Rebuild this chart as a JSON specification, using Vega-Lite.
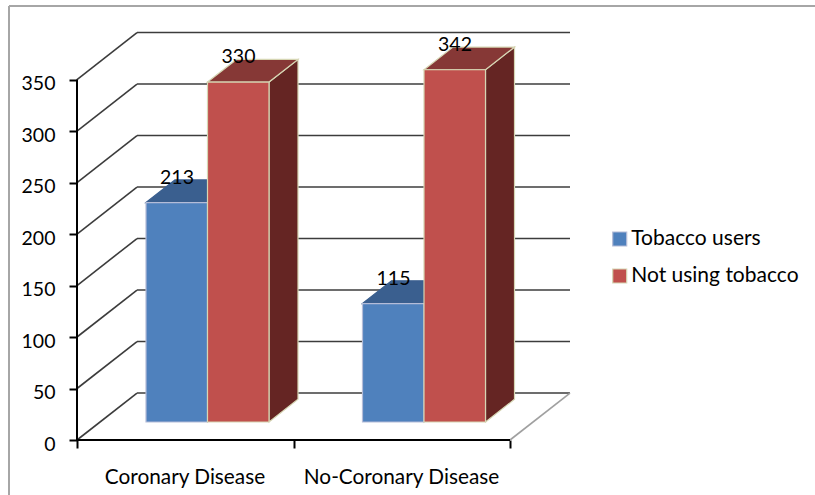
{
  "$schema": "https://vega.github.io/schema/vega-lite/v6.json",
  "width": 738,
  "height": 495,
  "autosize": "none",
  "padding": {"left": 77, "top": 0, "right": 0, "bottom": 0},
  "background": "white",
  "config": {"view": {"stroke": null}, "text": {"font": "Lato"}},
  "datasets": {
    "bars": [
      {"category": "Coronary Disease", "series": "Tobacco users", "value": 213},
      {"category": "Coronary Disease", "series": "Not using tobacco", "value": 330},
      {"category": "No-Coronary Disease", "series": "Tobacco users", "value": 115},
      {"category": "No-Coronary Disease", "series": "Not using tobacco", "value": 342}
    ],
    "ticks": [{"tick": 0}, {"tick": 50}, {"tick": 100}, {"tick": 150}, {"tick": 200}, {"tick": 250}, {"tick": 300}, {"tick": 350}],
    "single": [{}]
  },
  "layer": [
    {
      "data": {"name": "single"},
      "mark": {"type": "rule", "color": "#a6a6a6", "strokeWidth": 2},
      "encoding": {
        "x": {"datum": -68, "type": "quantitative", "title": null, "scale": {"domain": [0, 738], "range": [0, 738]},
          "axis": {"values": [0, 216.5, 433], "orient": "bottom", "offset": -55, "domain": false, "grid": false, "labels": false, "ticks": true, "tickSize": 8, "tickWidth": 2, "tickColor": "#000", "title": null}},
        "y": {"datum": 421.4, "type": "quantitative", "title": null, "scale": {"domain": [-53.4, 427.2], "range": [495, 0]},
          "axis": {"values": [0, 50, 100, 150, 200, 250, 300, 350], "orient": "left", "domain": false, "grid": false, "tickSize": 8, "tickWidth": 2, "tickColor": "#000", "labelFont": "Lato", "labelFontSize": 19.5, "labelColor": "#000", "labelPadding": 14, "labelOffset": 4, "title": null}},
        "y2": {"datum": -53.4}
      }
    },
    {
      "data": {"name": "single"},
      "mark": {"type": "rule", "color": "#a6a6a6", "strokeWidth": 2},
      "encoding": {
        "x": {"datum": -68, "type": "quantitative", "scale": {"domain": [0, 738], "range": [0, 738]}},
        "x2": {"datum": 738},
        "y": {"datum": 421.4, "type": "quantitative", "scale": {"domain": [-53.4, 427.2], "range": [495, 0]}}
      }
    },
    {
      "data": {"name": "ticks"},
      "transform": [
        {"calculate": "datum.tick + 45.6", "as": "backY"},
        {"calculate": "60", "as": "backX"},
        {"calculate": "0", "as": "frontX"}
      ],
      "mark": {"type": "rule", "color": "#3c3c3c", "strokeWidth": 1.6},
      "encoding": {
        "x": {"field": "frontX", "type": "quantitative", "scale": {"domain": [0, 738], "range": [0, 738]}},
        "x2": {"field": "backX"},
        "y": {"field": "tick", "type": "quantitative", "scale": {"domain": [-53.4, 427.2], "range": [495, 0]}},
        "y2": {"field": "backY"}
      }
    },
    {
      "data": {"name": "ticks"},
      "transform": [
        {"calculate": "datum.tick + 45.6", "as": "backY"},
        {"calculate": "60", "as": "backX"},
        {"calculate": "493", "as": "endX"}
      ],
      "mark": {"type": "rule", "color": "#3c3c3c", "strokeWidth": 1.6},
      "encoding": {
        "x": {"field": "backX", "type": "quantitative", "scale": {"domain": [0, 738], "range": [0, 738]}},
        "x2": {"field": "endX"},
        "y": {"field": "backY", "type": "quantitative", "scale": {"domain": [-53.4, 427.2], "range": [495, 0]}}
      }
    },
    {
      "data": {"name": "single"},
      "mark": {"type": "rule", "color": "#a0a0a0", "strokeWidth": 1.6},
      "encoding": {
        "x": {"datum": 433, "type": "quantitative", "scale": {"domain": [0, 738], "range": [0, 738]}},
        "x2": {"datum": 493},
        "y": {"datum": 0, "type": "quantitative", "scale": {"domain": [-53.4, 427.2], "range": [495, 0]}},
        "y2": {"datum": 45.6}
      }
    },
    {
      "data": {"name": "single"},
      "mark": {"type": "rule", "color": "#000", "strokeWidth": 2},
      "encoding": {
        "x": {"datum": 0, "type": "quantitative", "scale": {"domain": [0, 738], "range": [0, 738]}},
        "y": {"datum": 0, "type": "quantitative", "scale": {"domain": [-53.4, 427.2], "range": [495, 0]}},
        "y2": {"datum": 350}
      }
    },
    {
      "data": {"name": "single"},
      "mark": {"type": "rule", "color": "#000", "strokeWidth": 2},
      "encoding": {
        "x": {"datum": 0, "type": "quantitative", "scale": {"domain": [0, 738], "range": [0, 738]}},
        "x2": {"datum": 433},
        "y": {"datum": 0, "type": "quantitative", "scale": {"domain": [-53.4, 427.2], "range": [495, 0]}}
      }
    },
    {
      "data": {"name": "bars"},
      "transform": [
        {"calculate": "(datum.category === 'Coronary Disease' ? 0 : 216.5) + (datum.series === 'Tobacco users' ? 69 : 130.5) + 61.5", "as": "near"},
        {"calculate": "datum.near + 29", "as": "far"},
        {"fold": ["near", "far"], "as": ["corner", "cx"]},
        {"calculate": "datum.value + 17.5 + (datum.corner === 'far' ? 22 : 0)", "as": "upper"},
        {"calculate": "17.5 + (datum.corner === 'far' ? 22 : 0)", "as": "lower"}
      ],
      "mark": {"type": "area", "stroke": "#d6d6b4", "strokeWidth": 1.2},
      "encoding": {
        "x": {"field": "cx", "type": "quantitative", "scale": {"domain": [0, 738], "range": [0, 738]}},
        "y": {"field": "upper", "type": "quantitative", "stack": null, "scale": {"domain": [-53.4, 427.2], "range": [495, 0]}},
        "y2": {"field": "lower"},
        "detail": [{"field": "category"}, {"field": "series"}],
        "fill": {"condition": {"test": "datum.series === 'Tobacco users'", "value": "#2f4d73"}, "value": "#652523"}
      }
    },
    {
      "data": {"name": "bars"},
      "transform": [
        {"calculate": "(datum.category === 'Coronary Disease' ? 0 : 216.5) + (datum.series === 'Tobacco users' ? 69 : 130.5)", "as": "a"},
        {"calculate": "datum.a + 29", "as": "b"},
        {"calculate": "datum.a + 61.5", "as": "c"},
        {"calculate": "datum.a + 90.5", "as": "d"},
        {"fold": ["a", "b", "c", "d"], "as": ["corner", "cx"]},
        {"calculate": "datum.value + 17.5 + (datum.corner === 'd' ? 22 : 0)", "as": "lower"},
        {"calculate": "datum.value + 17.5 + (datum.corner === 'a' ? 0 : 22)", "as": "upper"}
      ],
      "mark": {"type": "area", "strokeWidth": 1.2, "stroke": "#d6d6b4"},
      "encoding": {
        "x": {"field": "cx", "type": "quantitative", "scale": {"domain": [0, 738], "range": [0, 738]}},
        "y": {"field": "upper", "type": "quantitative", "stack": null, "scale": {"domain": [-53.4, 427.2], "range": [495, 0]}},
        "y2": {"field": "lower"},
        "detail": [{"field": "category"}, {"field": "series"}],
        "fill": {"condition": {"test": "datum.series === 'Tobacco users'", "value": "#3a5f8f"}, "value": "#863836"},
        "stroke": {"condition": {"test": "datum.series === 'Tobacco users'", "value": "#3a5f8f"}, "value": "#d6d6b4"}
      }
    },
    {
      "data": {"name": "bars"},
      "transform": [
        {"calculate": "(datum.category === 'Coronary Disease' ? 0 : 216.5) + (datum.series === 'Tobacco users' ? 69 : 130.5)", "as": "left"},
        {"calculate": "datum.left + 61.5", "as": "right"},
        {"calculate": "datum.value + 17.5", "as": "top"},
        {"calculate": "17.5", "as": "base"}
      ],
      "mark": {"type": "rect", "strokeWidth": 1.2},
      "encoding": {
        "x": {"field": "left", "type": "quantitative", "scale": {"domain": [0, 738], "range": [0, 738]}},
        "x2": {"field": "right"},
        "y": {"field": "top", "type": "quantitative", "scale": {"domain": [-53.4, 427.2], "range": [495, 0]}},
        "y2": {"field": "base"},
        "fill": {"field": "series", "type": "nominal", "title": null,
          "scale": {"domain": ["Tobacco users", "Not using tobacco"], "range": ["#4f81bd", "#c0504d"]},
          "legend": {"orient": "none", "legendX": 532.2, "legendY": 228.5, "padding": 0, "title": null, "symbolType": "square", "symbolSize": 196, "symbolStrokeWidth": 1.2, "labelFont": "Lato", "labelFontSize": 21, "labelColor": "#000", "labelOffset": 1, "rowPadding": 15, "labelLimit": 300}},
        "stroke": {"field": "series", "type": "nominal", "title": null,
          "scale": {"domain": ["Tobacco users", "Not using tobacco"], "range": ["#b4bcd8", "#d6d6b4"]}}
      }
    },
    {
      "data": {"name": "bars"},
      "transform": [
        {"calculate": "(datum.category === 'Coronary Disease' ? 0 : 216.5) + (datum.series === 'Tobacco users' ? 69 : 130.5) + 31", "as": "mid"},
        {"calculate": "datum.value + 17.5", "as": "top"}
      ],
      "mark": {"type": "text", "font": "Lato", "fontSize": 19.5, "color": "#000", "dy": -25, "baseline": "middle"},
      "encoding": {
        "x": {"field": "mid", "type": "quantitative", "scale": {"domain": [0, 738], "range": [0, 738]}},
        "y": {"field": "top", "type": "quantitative", "scale": {"domain": [-53.4, 427.2], "range": [495, 0]}},
        "text": {"field": "value", "type": "quantitative"}
      }
    },
    {
      "data": {"name": "bars"},
      "transform": [
        {"filter": "datum.series === 'Tobacco users'"},
        {"calculate": "datum.category === 'Coronary Disease' ? 108 : 324.5", "as": "centre"},
        {"calculate": "-37", "as": "labelY"}
      ],
      "mark": {"type": "text", "font": "Lato", "fontSize": 20.8, "color": "#000", "baseline": "middle"},
      "encoding": {
        "x": {"field": "centre", "type": "quantitative", "scale": {"domain": [0, 738], "range": [0, 738]}},
        "y": {"field": "labelY", "type": "quantitative", "scale": {"domain": [-53.4, 427.2], "range": [495, 0]}},
        "text": {"field": "category", "type": "nominal"}
      }
    }
  ]
}
